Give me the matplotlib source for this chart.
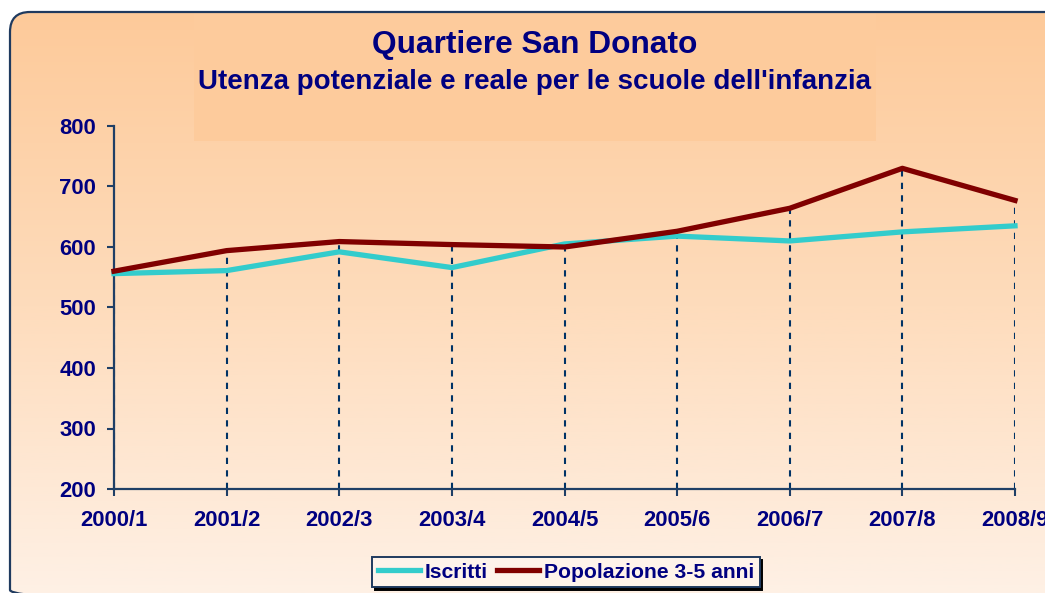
"""Quartiere San Donato: potential vs. enrolled users of the nursery schools."""

import matplotlib

matplotlib.use("Agg")
import matplotlib.pyplot as plt
import numpy as np
from matplotlib.colors import LinearSegmentedColormap
from matplotlib.patches import FancyBboxPatch, Rectangle

ANNI = ["2000/1", "2001/2", "2002/3", "2003/4", "2004/5", "2005/6", "2006/7", "2007/8", "2008/9"]
ISCRITTI = [556, 561, 592, 566, 605, 618, 610, 625, 635]
POPOLAZIONE = [560, 594, 609, 604, 600, 626, 664, 730, 677]
Y_TICKS = [200, 300, 400, 500, 600, 700, 800]

NAVY = "#000080"
AXIS = "#1f3f66"
W, H = 1045, 593

plt.rcParams["font.family"] = ["Liberation Sans", "DejaVu Sans"]
plt.rcParams["font.weight"] = "bold"

fig = plt.figure(figsize=(W / 100, H / 100), dpi=100)

# --- background: rounded frame with vertical peach gradient (pixel coords) --- #
bg = fig.add_axes([0, 0, 1, 1], zorder=0)
bg.set_xlim(0, W)
bg.set_ylim(H, 0)
bg.axis("off")
frame = FancyBboxPatch(
    (10, 12), 1080, 598, boxstyle="round,pad=0,rounding_size=20",
    facecolor="none", edgecolor="#1f3a5f", lw=1.6, zorder=3,
)
bg.add_patch(frame)
cmap = LinearSegmentedColormap.from_list("peach", ["#fdca9a", "#fedcbc", "#fef1e6"])
grad = np.linspace(0, 1, 256).reshape(-1, 1)
img = bg.imshow(grad, cmap=cmap, extent=(10, 1090, 600, 12), aspect="auto", zorder=1)
img.set_clip_path(frame)
bg.add_patch(Rectangle((194, 12), 682, 129, facecolor="#fdcb9c", edgecolor="none", zorder=2))

fig.text(535, H - 45, "Quartiere San Donato", transform=None, ha="center", va="center",
         fontsize=22.8, fontweight="bold", color=NAVY, zorder=5)
fig.text(535, H - 82, "Utenza potenziale e reale per le scuole dell'infanzia", transform=None,
         ha="center", va="center", fontsize=20, fontweight="bold", color=NAVY, zorder=5)

# --- main plot ----------------------------------------------------------- #
ax = fig.add_axes([114 / W, 1 - 489 / H, (1015 - 114) / W, (489 - 126) / H], zorder=2)
ax.patch.set_visible(False)
xs = np.arange(len(ANNI))

# drop lines from the higher series down to the axis
ax.vlines(xs, 200, np.maximum(ISCRITTI, POPOLAZIONE), colors="#003366",
          linestyles=(0, (3, 3)), lw=1.5, zorder=1)
ax.plot(xs, ISCRITTI, color="#33cccc", lw=3.8, label="Iscritti", zorder=3, clip_on=False)
ax.plot(xs, POPOLAZIONE, color="#800000", lw=3.8, label="Popolazione 3-5 anni", zorder=4,
        clip_on=False)

ax.set_xlim(0, len(ANNI) - 1)
ax.set_ylim(200, 800)
ax.set_yticks(Y_TICKS)
ax.set_xticks(xs)
ax.set_xticklabels(ANNI)
ax.spines[["top", "right"]].set_visible(False)
for s in ("left", "bottom"):
    ax.spines[s].set_color(AXIS)
    ax.spines[s].set_linewidth(1.6)
ax.tick_params(axis="both", direction="out", length=5, width=1.5, color=AXIS,
               labelsize=15.8, labelcolor=NAVY)
ax.tick_params(axis="x", pad=10)
ax.tick_params(axis="y", pad=8)
for lab in ax.get_xticklabels() + ax.get_yticklabels():
    lab.set_fontweight("bold")

leg = fig.legend(
    loc="center", bbox_to_anchor=(566 / W, 1 - 572 / H), ncol=2,
    prop={"size": 15.2, "weight": "bold"},
    labelcolor=NAVY, frameon=True, fancybox=False, edgecolor="#1f3a5f",
    facecolor="#fef3ea", framealpha=1, handlelength=2.0, handletextpad=0.25,
    columnspacing=0.4, borderpad=0.25, shadow={"color": "black", "alpha": 1},
)
leg.get_frame().set_linewidth(1.4)
leg.set_zorder(6)

fig.savefig("out.png", dpi=100)
